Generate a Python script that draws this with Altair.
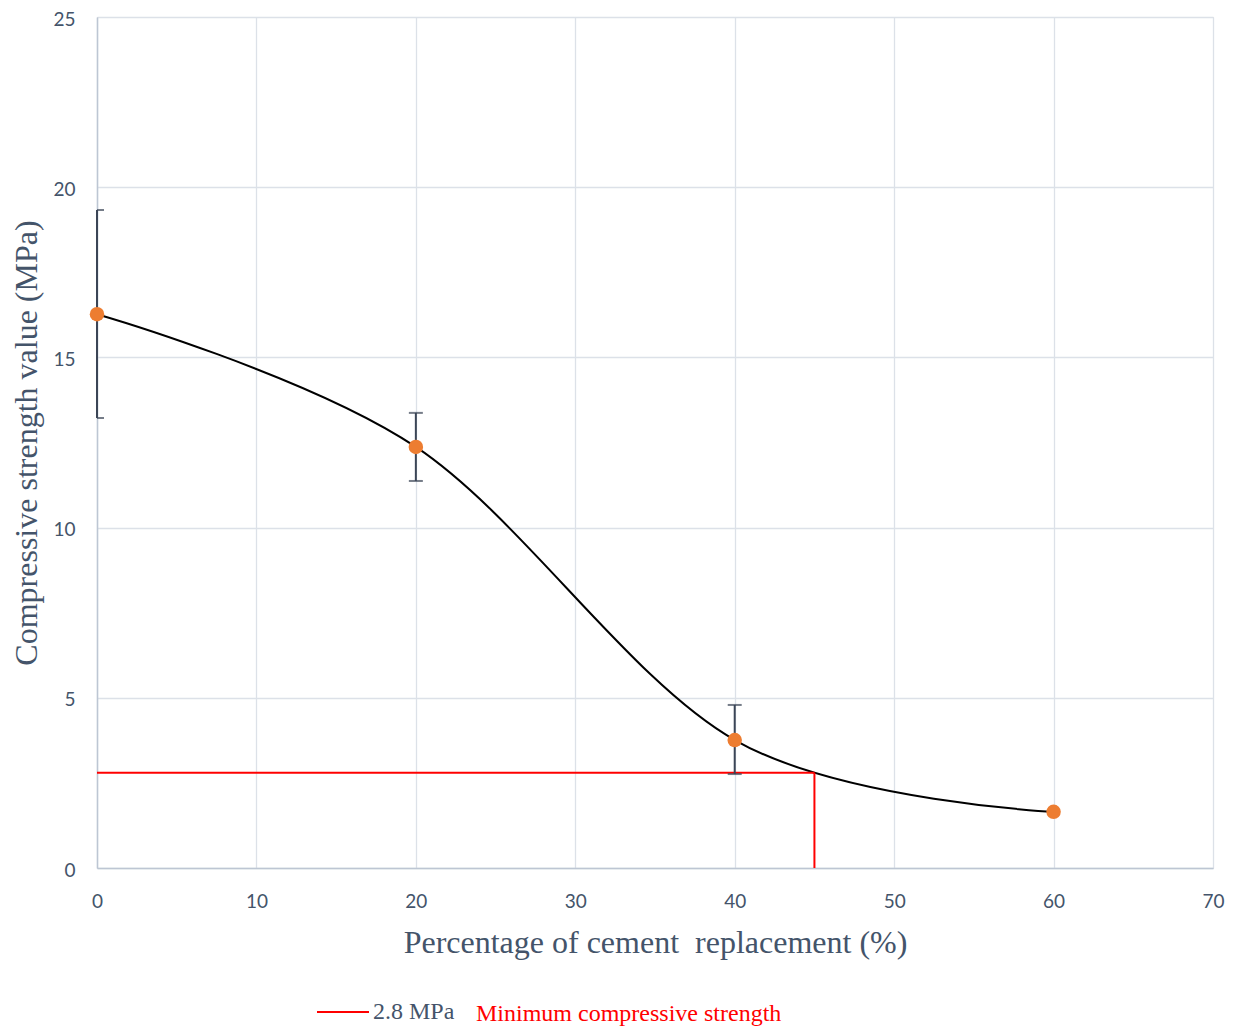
import altair as alt
import pandas as pd

replacement = [0, 20, 40, 60]
strength = [16.27, 12.37, 3.76, 1.65]
err_low = [13.22, 11.37, 2.76, None]
err_high = [19.33, 13.37, 4.79, None]

limit_value = 2.8
limit_x = 45

df = pd.DataFrame({"x": replacement, "y": strength, "lo": err_low, "hi": err_high})
df_err = df.dropna()
df_h = pd.DataFrame({"x": [0], "x2": [limit_x], "y": [limit_value]})
df_v = pd.DataFrame({"x": [limit_x], "y": [0], "y2": [limit_value]})

TXT = "#44546A"
W, H = 1116, 851

xs = alt.Scale(domain=[0, 70], nice=False, zero=True)
ys = alt.Scale(domain=[0, 25], nice=False)

xaxis = alt.Axis(values=list(range(0, 71, 10)), title="Percentage of cement\u00a0 replacement (%)",
                 grid=True, gridColor="#DCE1E8", gridWidth=1.3, domainColor="#BDC6D3", domainWidth=1.5,
                 ticks=False, labelFont="Lato", labelFontSize=19, labelColor=TXT, labelPadding=24,
                 labelFlush=False,
                 titleFont="Liberation Serif", titleFontSize=32, titleFontWeight="normal",
                 titleColor=TXT, titlePadding=16)
yaxis = alt.Axis(values=list(range(0, 26, 5)), title="Compressive strength value (MPa)",
                 grid=True, gridColor="#DCE1E8", gridWidth=1.3, domainColor="#BDC6D3", domainWidth=1.5,
                 ticks=False, labelFont="Lato", labelFontSize=19, labelColor=TXT, labelPadding=22,
                 labelOffset=2, labelFlush=False,
                 titleFont="Liberation Serif", titleFontSize=32, titleFontWeight="normal",
                 titleColor=TXT, titlePadding=9)

base = alt.Chart(df)

line = base.mark_line(color="black", strokeWidth=2, interpolate="cardinal").encode(
    x=alt.X("x:Q", scale=xs, axis=xaxis),
    y=alt.Y("y:Q", scale=ys, axis=yaxis),
)

hrule = alt.Chart(df_h).mark_rule(color="#FF0000", strokeWidth=2).encode(
    x=alt.X("x:Q", scale=xs), x2="x2:Q", y=alt.Y("y:Q", scale=ys))
vrule = alt.Chart(df_v).mark_rule(color="#FF0000", strokeWidth=2).encode(
    x=alt.X("x:Q", scale=xs), y=alt.Y("y:Q", scale=ys), y2="y2:Q")

ebar = alt.Chart(df_err).mark_rule(color="#3B4556", strokeWidth=2).encode(
    x=alt.X("x:Q", scale=xs), y=alt.Y("lo:Q", scale=ys), y2="hi:Q")
cap_lo = alt.Chart(df_err).mark_tick(color="#3B4556", orient="horizontal", size=14, thickness=2, clip=True).encode(
    x=alt.X("x:Q", scale=xs), y=alt.Y("lo:Q", scale=ys))
cap_hi = alt.Chart(df_err).mark_tick(color="#3B4556", orient="horizontal", size=14, thickness=2, clip=True).encode(
    x=alt.X("x:Q", scale=xs), y=alt.Y("hi:Q", scale=ys))

pts = base.mark_circle(color="#ED7D31", size=210, opacity=1).encode(
    x=alt.X("x:Q", scale=xs), y=alt.Y("y:Q", scale=ys))

leg_df = pd.DataFrame({"a": [0]})
leg_line = alt.Chart(leg_df).mark_rule(color="#FF0000", strokeWidth=2).encode(
    x=alt.value(220), x2=alt.value(272), y=alt.value(995))
leg_t1 = alt.Chart(leg_df).mark_text(text="2.8 MPa", align="left", baseline="middle",
                                     font="Liberation Serif", fontSize=24, color=TXT).encode(
    x=alt.value(276), y=alt.value(995))
leg_t2 = alt.Chart(leg_df).mark_text(text="Minimum compressive strength", align="left", baseline="middle",
                                     font="Liberation Serif", fontSize=24, color="#FF0000").encode(
    x=alt.value(379), y=alt.value(997))

chart = alt.layer(line, hrule, vrule, ebar, cap_lo, cap_hi, pts, leg_line, leg_t1, leg_t2).properties(
    width=W, height=H,
    autosize=alt.AutoSizeParams(type="none"),
    padding={"left": 89, "top": 9, "right": 15, "bottom": 160},
).configure_view(stroke=None).configure(background="white")

chart.save("out.html", embed_options={"renderer": "svg", "actions": False})
